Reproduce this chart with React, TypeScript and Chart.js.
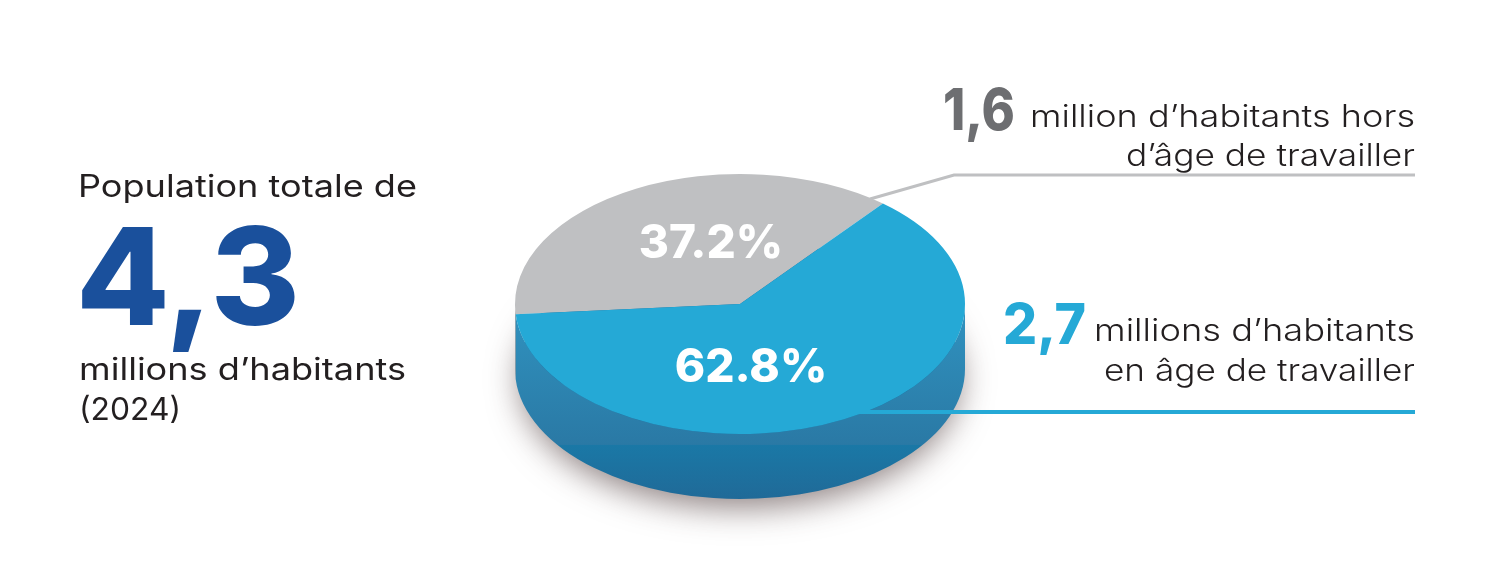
import React, { useEffect, useLayoutEffect, useRef } from "react";
import { Chart, registerables } from "chart.js";

Chart.register(...registerables);

const categories = ["Hors d'âge de travailler", "En âge de travailler"];
const shares = [37.2, 62.8];
const topColors = ["#bfc0c2", "#25a9d6"];
const FONT = "Inter, 'Noto Sans', sans-serif";

const CX = 740, CY = 304, RX = 225, RY = 130, DEPTH = 65;
const SQUASH = RY / RX;
const labelAnchors = [
  { x: 711, y: 258 },
  { x: 751, y: 382 },
];

type T = { text: string; x: number; w: number; base: number; size: number; weight: number; color: string };
const ink = "#231f20";
const grayInk = "#6d6e71";
const blueInk = "#25a9d6";
const texts: T[] = [
  { text: "Population totale de", x: 78, w: 339, base: 197, size: 31, weight: 400, color: ink },
  { text: "4,3", x: 76, w: 224, base: 326, size: 135, weight: 800, color: "#1a509c" },
  { text: "millions d’habitants", x: 79, w: 327, base: 380, size: 31, weight: 400, color: ink },
  { text: "(2024)", x: 79, w: 102, base: 420, size: 31, weight: 400, color: ink },
  { text: "1,6", x: 943, w: 72, base: 130, size: 58, weight: 800, color: grayInk },
  { text: "million d’habitants hors", x: 1030, w: 385, base: 127, size: 31, weight: 300, color: ink },
  { text: "d’âge de travailler", x: 1126, w: 289, base: 166, size: 31, weight: 300, color: ink },
  { text: "2,7", x: 1003, w: 83, base: 344, size: 56, weight: 800, color: blueInk },
  { text: "millions d’habitants", x: 1094, w: 321, base: 341, size: 31, weight: 300, color: ink },
  { text: "en âge de travailler", x: 1104, w: 311, base: 381, size: 31, weight: 300, color: ink },
];

const pie3d = {
  id: "pie3d",
  beforeDatasetDraw(chart: any) {
    const ctx: CanvasRenderingContext2D = chart.ctx;
    const arcs = chart.getDatasetMeta(0).data;

    // soft shadow cast under the pie
    ctx.save();
    ctx.shadowColor = "rgba(70,50,50,0.6)";
    ctx.shadowBlur = 32;
    ctx.shadowOffsetY = 10;
    ctx.fillStyle = "#1f6a98";
    ctx.beginPath();
    ctx.ellipse(CX, CY + DEPTH, RX - 5, RY - 1, 0, 0, Math.PI * 2);
    ctx.fill();
    ctx.restore();

    // extruded wall: lower half only, split by the slices' own angles
    const blueWall = ctx.createLinearGradient(0, CY, 0, CY + RY + DEPTH);
    blueWall.addColorStop(0, "#3093c0");
    blueWall.addColorStop(0.72, "#2a79a5");
    blueWall.addColorStop(0.725, "#1a78a6");
    blueWall.addColorStop(1, "#206a98");
    const wallFill = ["#8f8f91", blueWall];
    arcs.forEach((arc: any, i: number) => {
      const TAU = Math.PI * 2;
      for (const shift of [-TAU, 0, TAU]) {
        const a0 = Math.max(arc.startAngle + shift, 0);
        const a1 = Math.min(arc.endAngle + shift, Math.PI);
        if (a1 <= a0) continue;
        ctx.beginPath();
        ctx.ellipse(CX, CY, RX, RY, 0, a0, a1);
        ctx.ellipse(CX, CY + DEPTH, RX, RY, 0, a1, a0, true);
        ctx.closePath();
        ctx.fillStyle = wallFill[i];
        ctx.fill();
      }
    });

    // squash the library's circular pie into the top ellipse
    ctx.save();
    ctx.translate(CX, CY);
    ctx.scale(1, SQUASH);
    ctx.translate(-CX, -CY);
  },
  afterDatasetDraw(chart: any) {
    const ctx: CanvasRenderingContext2D = chart.ctx;
    ctx.restore();

    // leader lines
    ctx.lineJoin = "miter";
    ctx.strokeStyle = "#bfc0c2";
    ctx.lineWidth = 3;
    ctx.beginPath();
    ctx.moveTo(870, 199);
    ctx.lineTo(954, 175);
    ctx.lineTo(1415, 175);
    ctx.stroke();
    ctx.strokeStyle = "#25a9d6";
    ctx.lineWidth = 4;
    ctx.beginPath();
    ctx.moveTo(858, 412);
    ctx.lineTo(1415, 412);
    ctx.stroke();

    // percentage labels
    ctx.fillStyle = "#ffffff";
    ctx.font = `800 46px ${FONT}`;
    ctx.textAlign = "center";
    ctx.textBaseline = "alphabetic";
    shares.forEach((v, i) => {
      ctx.fillText(`${v.toFixed(1)}%`, labelAnchors[i].x, labelAnchors[i].y);
    });
  },
};

export default function App() {
  const canvasRef = useRef<HTMLCanvasElement>(null);
  const spanRefs = useRef<(HTMLSpanElement | null)[]>([]);

  useLayoutEffect(() => {
    spanRefs.current.forEach((el, i) => {
      if (!el) return;
      const natural = el.getBoundingClientRect().width;
      el.style.transformOrigin = "0 0";
      el.style.transform = `scaleX(${texts[i].w / natural})`;
    });
  }, []);

  useEffect(() => {
    const chart = new Chart(canvasRef.current!, {
      type: "pie",
      data: {
        labels: categories,
        datasets: [{ data: shares, backgroundColor: topColors, borderWidth: 0, hoverOffset: 0 }],
      },
      options: {
        responsive: false,
        animation: false,
        rotation: 265.5,
        layout: { padding: { left: CX - RX, right: 1505 - CX - RX, top: CY - RX, bottom: 566 - CY - RX } },
        plugins: { legend: { display: false }, tooltip: { enabled: false } },
      },
      plugins: [pie3d],
    } as any);
    return () => chart.destroy();
  }, []);

  return (
    <div style={{ position: "fixed", left: 0, top: 0, width: 1505, height: 566, overflow: "hidden", background: "#fff" }}>
      <canvas ref={canvasRef} width={1505} height={566} style={{ position: "absolute", left: 0, top: 0, width: 1505, height: 566 }} />
      {texts.map((t, i) => (
        <span
          key={t.text}
          ref={(el) => { spanRefs.current[i] = el; }}
          style={{
            position: "absolute",
            left: t.x,
            top: t.base - 0.8637 * t.size,
            fontFamily: FONT,
            fontSize: t.size,
            fontWeight: t.weight,
            lineHeight: `${t.size}px`,
            color: t.color,
            whiteSpace: "nowrap",
          }}
        >
          {t.text}
        </span>
      ))}
    </div>
  );
}
